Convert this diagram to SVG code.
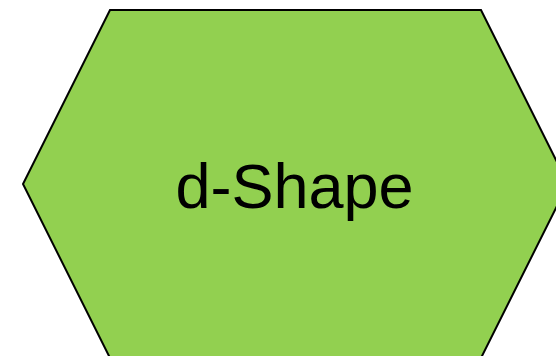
<svg xmlns="http://www.w3.org/2000/svg" width="556" height="356" viewBox="0 0 556 356">
<style>
.shape{fill:#92D050;stroke:#000;stroke-width:2;stroke-linejoin:miter}
.label{font-family:"Liberation Sans",Arial,sans-serif;font-size:63px;fill:#000;text-anchor:middle}
</style>
<g id="d-shape">
<polygon class="shape" points="110,10 481,10 568,184 481,358 110,358 23,184"/>
<text class="label" x="294.5" y="208">d-Shape</text>
</g>
<g id="connectors"/>
</svg>
